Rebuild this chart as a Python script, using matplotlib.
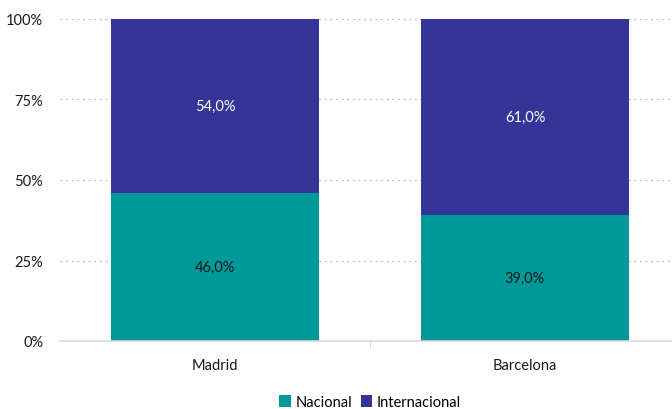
import matplotlib.pyplot as plt
import numpy as np

# Reparto de viajeros por origen
ciudades = ['Madrid', 'Barcelona']
nacional = [46.0, 39.0]
internacional = [54.0, 61.0]

color_nac = '#009999'
color_int = '#353597'

plt.rcParams['font.family'] = ['Lato', 'DejaVu Sans']

fig = plt.figure(figsize=(6.72, 4.10), dpi=100)
ax = fig.add_axes([60 / 672, 68 / 410, 620 / 672, 322 / 410])

x = np.arange(len(ciudades))
ancho = 0.67
b1 = ax.bar(x, nacional, ancho, color=color_nac, label='Nacional', zorder=2)
b2 = ax.bar(x, internacional, ancho, bottom=nacional, color=color_int,
            label='Internacional', zorder=2)

for i in range(len(ciudades)):
    ax.text(x[i], nacional[i] / 2, f'{nacional[i]:.1f}%'.replace('.', ','),
            ha='center', va='center', fontsize=10.5, color='#1a1a1a')
    ax.text(x[i], nacional[i] + internacional[i] / 2,
            f'{internacional[i]:.1f}%'.replace('.', ','),
            ha='center', va='center', fontsize=10.5, color='white')

ax.set_xlim(-0.5, 1.5)
ax.set_ylim(0, 100)
ax.set_yticks([0, 25, 50, 75, 100])
ax.set_yticklabels(['0%', '25%', '50%', '75%', '100%'])
ax.set_xticks(x)
ax.set_xticklabels(ciudades)
ax.set_xticks([0.5], minor=True)

ax.yaxis.grid(True, linestyle=(0, (1.5, 3)), color='#bbbbbb', linewidth=0.9, zorder=0)
for s in ['top', 'right', 'left']:
    ax.spines[s].set_visible(False)
ax.spines['bottom'].set_color('#d9d9d9')
ax.spines['bottom'].set_linewidth(1.2)

ax.tick_params(axis='y', length=0, pad=12, labelsize=10.5, colors='#1a1a1a')
ax.tick_params(axis='x', which='major', length=0, pad=12, labelsize=10.5, colors='#1a1a1a')
ax.tick_params(axis='x', which='minor', length=5, color='#d9d9d9')

fig.legend(handles=[b1, b2], loc='center', bbox_to_anchor=(370 / 672, 1 - 403 / 410),
           ncol=2, frameon=False, fontsize=10.5, handlelength=0.8, handleheight=0.8,
           handletextpad=0.3, columnspacing=0.6)

fig.savefig('out.png', dpi=100)
